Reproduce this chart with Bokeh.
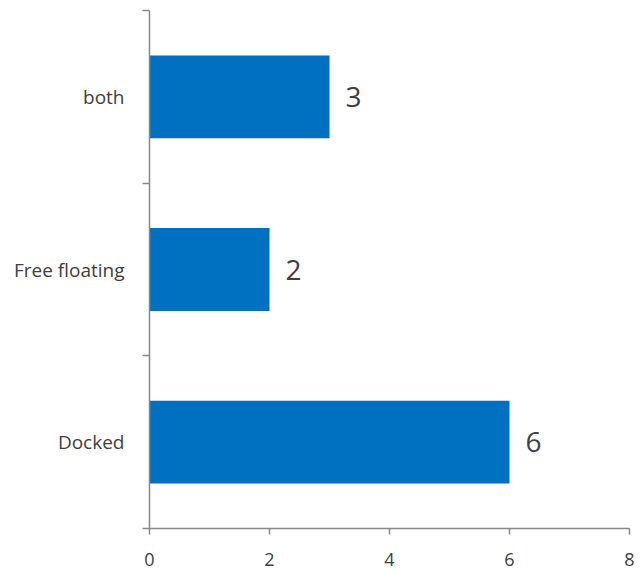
from bokeh.plotting import figure
from bokeh.models import Range1d, FixedTicker, ColumnDataSource
from bokeh.core.properties import value
from bokeh.embed import file_html
from bokeh.resources import INLINE

categories = ["Docked", "Free floating", "both"]
counts = [6, 2, 3]
x_ticks = [0, 2, 4, 6, 8]

FONT = "Open Sans"
TEXT = "#404040"
AXIS = "#888888"
BAR = "#0070C0"

n = len(categories)
ypos = [i + 0.5 for i in range(n)]
src = ColumnDataSource(dict(y=ypos, v=counts, lab=[str(c) for c in counts]))

p = figure(width=640, height=569, output_backend="svg", toolbar_location=None,
           x_range=Range1d(0, 8), y_range=Range1d(0, n),
           min_border_left=149, min_border_right=11, min_border_top=10, min_border_bottom=41)
p.outline_line_color = None
p.xgrid.grid_line_color = None
p.ygrid.grid_line_color = None

p.hbar(y="y", right="v", left=0, height=0.48, source=src, fill_color=BAR, line_color=None)
p.text(x="v", y="y", text="lab", source=src, x_offset=16, text_baseline="middle",
       text_align="left", text_font=value(FONT), text_font_size="28px", text_color=TEXT)

xa = p.xaxis[0]
xa.ticker = FixedTicker(ticks=x_ticks)
xa.axis_line_color = AXIS
xa.axis_line_width = 1.5
xa.major_tick_line_color = AXIS
xa.major_tick_line_width = 1.5
xa.major_tick_out = 6
xa.major_tick_in = 0
xa.minor_tick_line_color = None
xa.major_label_text_font = FONT
xa.major_label_text_font_size = "18px"
xa.major_label_text_color = TEXT
xa.major_label_standoff = 18

ya = p.yaxis[0]
ya.ticker = FixedTicker(ticks=ypos, minor_ticks=list(range(n + 1)))
ya.major_label_overrides = {y: c for y, c in zip(ypos, categories)}
ya.axis_line_color = AXIS
ya.axis_line_width = 1.5
ya.major_tick_line_color = None
ya.major_tick_out = 0
ya.major_tick_in = 0
ya.minor_tick_line_color = AXIS
ya.minor_tick_line_width = 1.5
ya.minor_tick_out = 7
ya.minor_tick_in = 0
ya.major_label_text_font = FONT
ya.major_label_text_font_size = "19px"
ya.major_label_text_color = TEXT
ya.major_label_standoff = 18

open("out.html", "w").write(file_html(p, INLINE))
